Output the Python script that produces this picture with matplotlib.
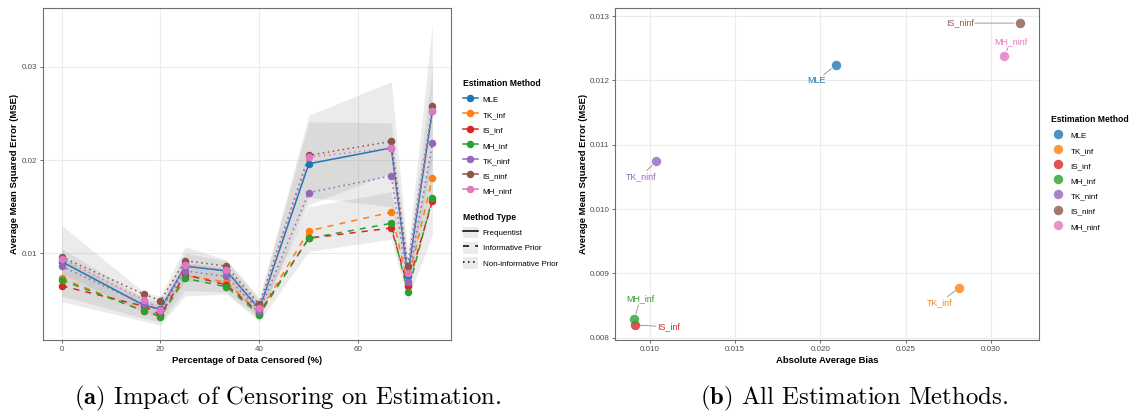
import matplotlib.pyplot as plt
from matplotlib.lines import Line2D
from matplotlib.patches import Rectangle
from matplotlib.ticker import FormatStrFormatter

plt.rcParams["font.family"] = ["Liberation Sans", "DejaVu Sans"]
plt.rcParams["mathtext.fontset"] = "cm"

methods = ["MLE", "TK_inf", "IS_inf", "MH_inf", "TK_ninf", "IS_ninf", "MH_ninf"]
method_types = ["Frequentist", "Informative Prior", "Non-informative Prior"]
method_type_of = {
    "MLE": "Frequentist",
    "TK_inf": "Informative Prior",
    "IS_inf": "Informative Prior",
    "MH_inf": "Informative Prior",
    "TK_ninf": "Non-informative Prior",
    "IS_ninf": "Non-informative Prior",
    "MH_ninf": "Non-informative Prior",
}
colors = {
    "MLE": "#1f77b4",
    "TK_inf": "#ff7f0e",
    "IS_inf": "#d62728",
    "MH_inf": "#2ca02c",
    "TK_ninf": "#9467bd",
    "IS_ninf": "#8c564b",
    "MH_ninf": "#e377c2",
}
linestyles = {
    "Frequentist": "-",
    "Informative Prior": (0, (4, 4)),
    "Non-informative Prior": (0, (1, 2.3)),
}

# censoring levels (%)
censored_pct = [0, 16.67, 20, 25, 33.33, 40, 50, 66.67, 70, 75]

mse_mle = [0.0091, 0.0044, 0.0040, 0.0086, 0.0081, 0.0040, 0.0196, 0.0213, 0.0076, 0.0253]
mse_tk_inf = [0.0073, 0.0038, 0.0033, 0.0076, 0.0069, 0.0036, 0.0124, 0.0144, 0.0068, 0.0181]
mse_is_inf = [0.0065, 0.0043, 0.0034, 0.0077, 0.0066, 0.0036, 0.0116, 0.0127, 0.0065, 0.0156]
mse_mh_inf = [0.0071, 0.0038, 0.0032, 0.0073, 0.0064, 0.0034, 0.0116, 0.0132, 0.0058, 0.0159]
mse_tk_ninf = [0.0086, 0.0045, 0.0038, 0.0081, 0.0075, 0.0038, 0.0165, 0.0183, 0.0069, 0.0218]
mse_is_ninf = [0.0096, 0.0056, 0.0049, 0.0092, 0.0086, 0.0045, 0.0205, 0.0220, 0.0086, 0.0258]
mse_mh_ninf = [0.0094, 0.0050, 0.0039, 0.0087, 0.0082, 0.0041, 0.0203, 0.0213, 0.0079, 0.0253]

# variability bands per method type
band_freq_lo = [0.0078, 0.0036, 0.0031, 0.0070, 0.0068, 0.0031, 0.0152, 0.0186, 0.0060, 0.0205]
band_freq_hi = [0.0105, 0.0052, 0.0048, 0.0100, 0.0092, 0.0050, 0.0241, 0.0240, 0.0092, 0.0300]
band_inf_lo = [0.0048, 0.0027, 0.0023, 0.0054, 0.0056, 0.0027, 0.0102, 0.0115, 0.0050, 0.0120]
band_inf_hi = [0.0096, 0.0050, 0.0044, 0.0090, 0.0084, 0.0046, 0.0150, 0.0166, 0.0082, 0.0215]
band_ninf_lo = [0.0054, 0.0030, 0.0026, 0.0060, 0.0058, 0.0030, 0.0160, 0.0150, 0.0058, 0.0160]
band_ninf_hi = [0.0130, 0.0058, 0.0054, 0.0107, 0.0093, 0.0052, 0.0248, 0.0284, 0.0100, 0.0347]

# overall summaries per method
avg_abs_bias = [0.0209, 0.02814, 0.0091, 0.00908, 0.01035, 0.0317, 0.0308]
avg_mse = [0.01224, 0.00878, 0.0082, 0.00829, 0.01074, 0.01289, 0.01238]

mse_by_method = dict(zip(methods, [mse_mle, mse_tk_inf, mse_is_inf, mse_mh_inf,
                                   mse_tk_ninf, mse_is_ninf, mse_mh_ninf]))
bands = [(band_freq_lo, band_freq_hi), (band_inf_lo, band_inf_hi), (band_ninf_lo, band_ninf_hi)]

# label offsets for the repelled text (pixels)
label_offsets = {
    "MLE": (-19, -16), "TK_inf": (-19, -15), "IS_inf": (34, -2), "MH_inf": (6, 20),
    "TK_ninf": (-15, -15), "IS_ninf": (-60, 0), "MH_ninf": (6, 14),
}

W, H = 1131, 416
fig = plt.figure(figsize=(W / 100, H / 100), dpi=100)
ax1 = fig.add_axes([43 / W, 1 - 340 / H, 408 / W, 332 / H])
ax2 = fig.add_axes([615 / W, 1 - 340 / H, 424 / W, 332 / H])


def style_axes(ax):
    ax.grid(color="#EBEBEB", lw=0.8)
    ax.set_axisbelow(True)
    for sp in ax.spines.values():
        sp.set_color("#6E6E6E")
        sp.set_linewidth(0.8)
    ax.tick_params(length=2.5, width=0.5, color="#333333", labelsize=5.8,
                   labelcolor="#4D4D4D", pad=1.5)


def expand(lo, hi, frac=0.05):
    pad = (hi - lo) * frac
    return lo - pad, hi + pad


def legend_title(x, y, text):
    fig.text(x / W, 1 - y / H, text, ha="left", va="center", fontsize=6.2,
             fontweight="bold")


legend_kw = dict(loc="upper left", bbox_transform=fig.transFigure, frameon=False,
                 fontsize=5.8, borderpad=0, borderaxespad=0, handlelength=1.8,
                 handleheight=1.8, handletextpad=0.65, labelspacing=0.47)

# ---- (a) MSE vs censoring ----
for lo, hi in bands:
    ax1.fill_between(censored_pct, lo, hi, color="#7F7F7F", alpha=0.15, lw=0)

for m in methods:
    ax1.plot(censored_pct, mse_by_method[m], color=colors[m], lw=1.1,
             linestyle=linestyles[method_type_of[m]], zorder=3)
for m in methods:
    ax1.plot(censored_pct, mse_by_method[m], color=colors[m], ls="", marker="o",
             ms=4.4, zorder=4)

all_lo = min(min(lo) for lo, _ in bands)
all_hi = max(max(hi) for _, hi in bands)
ax1.set_xlim(*expand(min(censored_pct), max(censored_pct)))
ax1.set_ylim(*expand(all_lo, all_hi))
ax1.set_xticks([0, 20, 40, 60])
ax1.set_yticks([0.01, 0.02, 0.03])
ax1.yaxis.set_major_formatter(FormatStrFormatter("%.2f"))
style_axes(ax1)
ax1.set_xlabel("Percentage of Data Censored (%)", fontsize=6.8, fontweight="bold")
ax1.set_ylabel("Average Mean Squared Error (MSE)", fontsize=6.8, fontweight="bold")
ax1.xaxis.set_label_coords(0.5, -16 / 332)
ax1.yaxis.set_label_coords(-23.5 / 408, 0.5)

legend_title(463, 83.5, "Estimation Method")
method_handles = [Line2D([], [], color=colors[m], lw=1.1, marker="o", ms=4.4) for m in methods]
leg_method = ax1.legend(method_handles, methods,
                        bbox_to_anchor=(463 / W, 1 - 94 / H), **legend_kw)
ax1.add_artist(leg_method)

legend_title(463, 217, "Method Type")
type_handles = [(Rectangle((0, 0), 1, 1, fc="#EBEBEB", ec="none"),
                 Line2D([], [], color="black", lw=1.1, linestyle=linestyles[t]))
                for t in method_types]
ax1.legend(type_handles, method_types,
           bbox_to_anchor=(463 / W, 1 - 227 / H), **legend_kw)

# ---- (b) bias vs MSE ----
for m, b, e in zip(methods, avg_abs_bias, avg_mse):
    ax2.scatter(b, e, s=46, color=colors[m], alpha=0.8, lw=0, zorder=3)
    ax2.annotate(m, (b, e), xytext=label_offsets[m], textcoords="offset pixels",
                 ha="center", va="center", fontsize=6.4, color=colors[m],
                 bbox=dict(boxstyle="square,pad=0.15", fc="none", ec="none"),
                 arrowprops=dict(arrowstyle="-", color="#777777", lw=0.5,
                                 shrinkA=0, shrinkB=4), zorder=4)

ax2.set_xlim(*expand(min(avg_abs_bias), max(avg_abs_bias)))
ax2.set_ylim(*expand(min(avg_mse), max(avg_mse)))
ax2.set_xticks([0.010, 0.015, 0.020, 0.025, 0.030])
ax2.set_yticks([0.008, 0.009, 0.010, 0.011, 0.012, 0.013])
ax2.xaxis.set_major_formatter(FormatStrFormatter("%.3f"))
ax2.yaxis.set_major_formatter(FormatStrFormatter("%.3f"))
style_axes(ax2)
ax2.set_xlabel("Absolute Average Bias", fontsize=6.8, fontweight="bold")
ax2.set_ylabel("Average Mean Squared Error (MSE)", fontsize=6.8, fontweight="bold")
ax2.xaxis.set_label_coords(0.5, -16 / 332)
ax2.yaxis.set_label_coords(-27.5 / 424, 0.5)

legend_title(1051, 119, "Estimation Method")
point_handles = [Line2D([], [], ls="", marker="o", ms=6.8, color=colors[m], alpha=0.8,
                        markeredgewidth=0) for m in methods]
ax2.legend(point_handles, methods,
           bbox_to_anchor=(1051 / W, 1 - 129.5 / H), **legend_kw)

# sub-figure captions
fig.text(288 / W, 12 / H, r"$\mathbf{(a)}$ Impact of Censoring on Estimation.",
         ha="center", va="baseline", fontsize=17.8, family="cmr10")
fig.text(854 / W, 12 / H, r"$\mathbf{(b)}$ All Estimation Methods.",
         ha="center", va="baseline", fontsize=17.8, family="cmr10")

fig.savefig("out.png", dpi=100)
